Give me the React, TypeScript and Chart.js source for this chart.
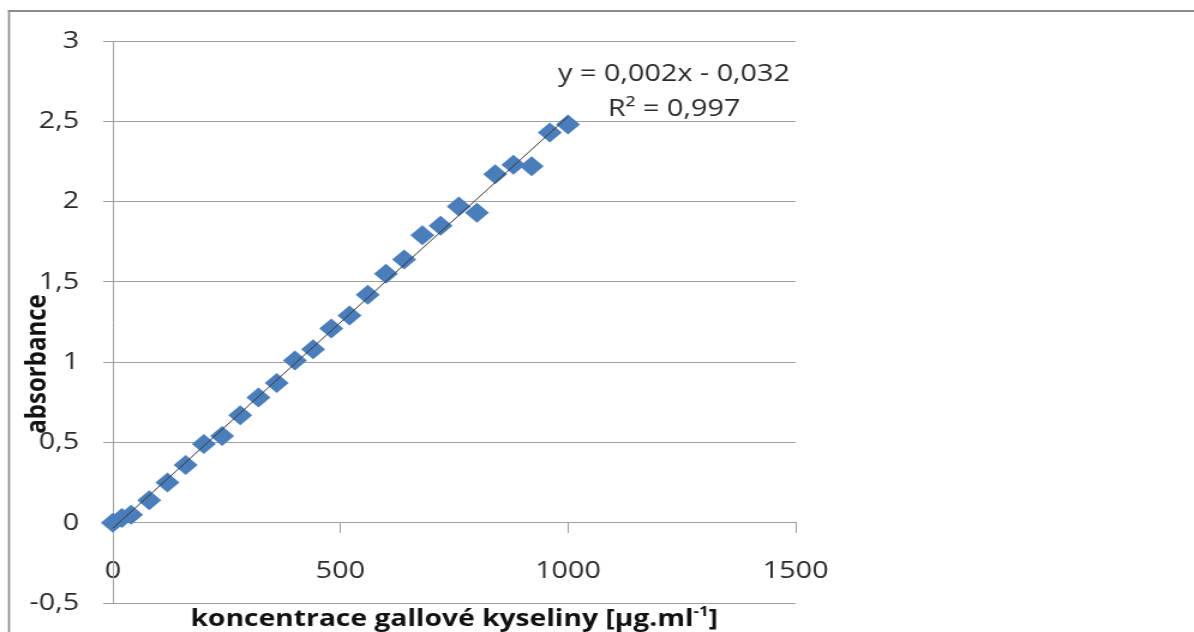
import React, { useEffect, useRef } from "react";
import { Chart, registerables } from "chart.js";

Chart.register(...registerables);

// ---- data ----
const concentrations = [
  0, 20, 40, 80, 120, 160, 200, 240, 280, 320, 360, 400, 440, 480, 520, 560,
  600, 640, 680, 720, 760, 800, 840, 880, 920, 960, 1000,
];
const absorbances = [
  0.0, 0.03, 0.05, 0.14, 0.25, 0.36, 0.49, 0.54, 0.67, 0.78, 0.87, 1.01, 1.08,
  1.21, 1.29, 1.42, 1.55, 1.64, 1.79, 1.85, 1.97, 1.93, 2.17, 2.23, 2.22, 2.43,
  2.48,
];
const xRange = [0, 1500];
const xStep = 500;
const yRange = [-0.5, 3];
const yStep = 0.5;

const equationText = "y = 0,002x - 0,032";
const rSquaredText = "R² = 0,997";
const xAxisTitleMain = "koncentrace gallové kyseliny [µg.ml";
const xAxisTitleSup = "-1";
const xAxisTitleEnd = "]";
const yAxisTitle = "absorbance";

// ---- look ----
const STRETCH = 1.2; // the reference is horizontally stretched
const PAGE_W = 1194;
const PAGE_H = 632;
const W = Math.round(PAGE_W / STRETCH);
const GRID = "#a0a0a0";
const TEXT = "#2b2b2b";
const MARKER = "#4A7EBB";
const FONT = '"Open Sans", "DejaVu Sans", sans-serif';

const fmt = (v: any) => String(v).replace(".", ",");

function linearFit(xs: number[], ys: number[]) {
  const n = xs.length;
  const mx = xs.reduce((a, b) => a + b, 0) / n;
  const my = ys.reduce((a, b) => a + b, 0) / n;
  let sxy = 0;
  let sxx = 0;
  for (let i = 0; i < n; i++) {
    sxy += (xs[i] - mx) * (ys[i] - my);
    sxx += (xs[i] - mx) * (xs[i] - mx);
  }
  const m = sxy / sxx;
  return { m, b: my - m * mx };
}

const overlayPlugin = {
  id: "overlay",
  beforeDraw(chart: any) {
    const ctx = chart.ctx;
    ctx.save();
    ctx.fillStyle = "#ffffff";
    ctx.fillRect(0, 0, chart.width, chart.height);
    ctx.restore();
  },
  afterDraw(chart: any) {
    const ctx = chart.ctx as CanvasRenderingContext2D;
    const area = chart.chartArea;
    ctx.save();
    // outer frame
    ctx.fillStyle = "#8a8a8a";
    ctx.fillRect(8 / STRETCH, 10, 2 / STRETCH, chart.height);
    ctx.fillRect(8 / STRETCH, 10, chart.width, 2);

    // trendline equation
    ctx.fillStyle = TEXT;
    ctx.font = `24px ${FONT}`;
    ctx.textAlign = "center";
    ctx.textBaseline = "alphabetic";
    const eqX = 674 / STRETCH;
    ctx.fillText(equationText, eqX, 81);
    ctx.fillText(rSquaredText, eqX, 116);

    // y axis title
    ctx.fillStyle = "#111111";
    ctx.font = `bold 24px ${FONT}`;
    ctx.save();
    ctx.translate(37 / STRETCH, 364);
    ctx.rotate(-Math.PI / 2);
    ctx.textAlign = "center";
    ctx.textBaseline = "middle";
    ctx.fillText(yAxisTitle, 0, 0);
    ctx.restore();

    // x axis title with superscript
    const mainFont = `bold 23.5px ${FONT}`;
    const supFont = `bold 14px ${FONT}`;
    ctx.textAlign = "left";
    ctx.textBaseline = "alphabetic";
    ctx.font = mainFont;
    const w1 = ctx.measureText(xAxisTitleMain).width;
    const w3 = ctx.measureText(xAxisTitleEnd).width;
    ctx.font = supFont;
    const w2 = ctx.measureText(xAxisTitleSup).width;
    const total = w1 + w2 + w3;
    let x = (area.left + area.right) / 2 - total / 2;
    const base = 626;
    ctx.font = mainFont;
    ctx.fillText(xAxisTitleMain, x, base);
    x += w1;
    ctx.font = supFont;
    ctx.fillText(xAxisTitleSup, x, base - 10);
    x += w2;
    ctx.font = mainFont;
    ctx.fillText(xAxisTitleEnd, x, base);
    ctx.restore();
  },
};

export default function App() {
  const ref = useRef<HTMLCanvasElement>(null);

  useEffect(() => {
    document.body.style.margin = "0";
    const canvas = ref.current;
    if (!canvas) return;
    const fit = linearFit(concentrations, absorbances);
    const x0 = concentrations[0];
    const x1 = concentrations[concentrations.length - 1];

    const chart = new Chart(canvas, {
      type: "scatter",
      data: {
        datasets: [
          {
            type: "line",
            label: "trend",
            data: [
              { x: x0, y: fit.b + fit.m * x0 },
              { x: x1, y: fit.b + fit.m * x1 },
            ],
            borderColor: "#3a3a3a",
            borderWidth: 1,
            pointRadius: 0,
            order: 0,
            clip: false,
          } as any,
          {
            label: "absorbance",
            data: concentrations.map((c, i) => ({ x: c, y: absorbances[i] })),
            pointStyle: "rectRot",
            pointRadius: 10,
            pointHoverRadius: 10,
            backgroundColor: MARKER,
            borderColor: MARKER,
            borderWidth: 0,
            order: 1,
            clip: false,
          } as any,
        ],
      },
      options: {
        responsive: false,
        animation: false,
        devicePixelRatio: 1,
        layout: {
          padding: { top: 41, bottom: 29, left: 0, right: W - 663 },
        },
        plugins: {
          legend: { display: false },
          tooltip: { enabled: false },
          title: { display: false },
        },
        scales: {
          x: {
            type: "linear",
            position: { y: 0 } as any,
            min: xRange[0],
            max: xRange[1],
            ticks: {
              stepSize: xStep,
              color: TEXT,
              font: { family: FONT, size: 24 },
              padding: 24,
              maxRotation: 0,
              callback: fmt,
            },
            grid: {
              drawOnChartArea: false,
              drawTicks: true,
              tickLength: 10,
              color: GRID,
            },
            border: { display: true, color: GRID, width: 1 },
            afterFit: (s: any) => {
              s.height = 0;
              s.paddingTop = 0;
              s.paddingBottom = 0;
            },
          },
          y: {
            type: "linear",
            position: "left",
            min: yRange[0],
            max: yRange[1],
            ticks: {
              stepSize: yStep,
              color: TEXT,
              font: { family: FONT, size: 24 },
              padding: 20,
              callback: fmt,
            },
            grid: { color: GRID, tickLength: 8 },
            border: { display: true, color: GRID, width: 1 },
            afterFit: (s: any) => {
              s.width = 94;
              s.paddingTop = 0;
              s.paddingBottom = 0;
            },
          },
        },
      },
      plugins: [overlayPlugin],
    });
    return () => chart.destroy();
  }, []);

  return (
    <canvas
      ref={ref}
      width={W}
      height={PAGE_H}
      style={{ width: PAGE_W + "px", height: PAGE_H + "px", display: "block" }}
    />
  );
}
